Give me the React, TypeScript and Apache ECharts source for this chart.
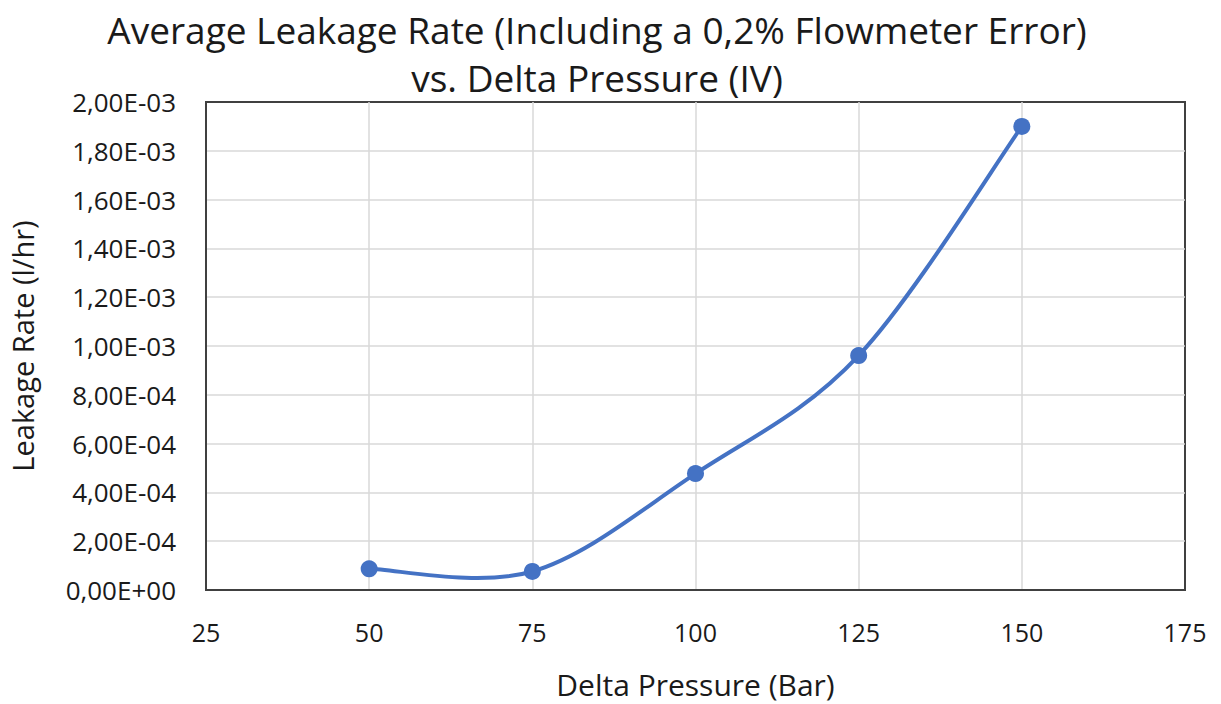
import React, { useEffect, useRef } from "react";
import * as echarts from "echarts";

const titleLines = ["Average Leakage Rate (Including a 0,2% Flowmeter Error)", "vs. Delta Pressure (IV)"];
const xAxisName = "Delta Pressure (Bar)";
const yAxisName = "Leakage Rate (l/hr)";
const pressures = [50, 75, 100, 125, 150];
const leakageRates = [8.7e-5, 7.6e-5, 4.77e-4, 9.61e-4, 1.9e-3];

function fmtSci(v: number): string {
  if (v === 0) return "0,00E+00";
  const [m, e] = v.toExponential(2).split("e");
  const exp = parseInt(e, 10);
  const sign = exp < 0 ? "-" : "+";
  const abs = Math.abs(exp).toString().padStart(2, "0");
  return m.replace(".", ",") + "E" + sign + abs;
}

export default function App() {
  const ref = useRef<HTMLDivElement>(null);
  useEffect(() => {
    if (!ref.current) return;
    const chart = echarts.init(ref.current, null, { renderer: "svg" });
    const font = "'Open Sans', 'Noto Sans', sans-serif";
    const data = pressures.map((p, i) => [p, leakageRates[i]]);
    const blue = "#4472c4";
    chart.setOption({
      animation: false,
      backgroundColor: "#ffffff",
      textStyle: { fontFamily: font },
      title: {
        text: titleLines.join("\n"),
        left: 597,
        textAlign: "center",
        top: 5,
        padding: 0,
        textStyle: { fontFamily: font, fontSize: 37, fontWeight: "normal", color: "#1a1a1a", lineHeight: 48 },
      },
      grid: { left: 206, right: 36, top: 102, bottom: 112, show: true, borderColor: "#404040", borderWidth: 2 },
      xAxis: {
        type: "value",
        min: 25,
        max: 175,
        interval: 25,
        name: xAxisName,
        nameLocation: "middle",
        nameGap: 79,
        nameTextStyle: { fontFamily: font, fontSize: 30, color: "#1a1a1a" },
        axisLine: { show: true, onZero: false, lineStyle: { color: "#404040", width: 2 } },
        axisTick: { show: false },
        axisLabel: { fontFamily: font, fontSize: 25, color: "#1a1a1a", margin: 29 },
        splitLine: { show: true, showMinLine: false, showMaxLine: false, lineStyle: { color: "#d9d9d9", width: 1.5 } },
      },
      yAxis: {
        type: "value",
        min: 0,
        max: 0.002,
        interval: 0.0002,
        name: yAxisName,
        nameLocation: "middle",
        nameGap: 169,
        nameTextStyle: { fontFamily: font, fontSize: 29, color: "#1a1a1a" },
        axisLine: { show: true, lineStyle: { color: "#404040", width: 2 } },
        axisTick: { show: false },
        axisLabel: { fontFamily: font, fontSize: 26, color: "#1a1a1a", margin: 30, formatter: (v: number) => fmtSci(v) },
        splitLine: { show: true, showMinLine: false, showMaxLine: false, lineStyle: { color: "#d9d9d9", width: 1.5 } },
      },
      series: [
        {
          type: "custom",
          data,
          encode: { x: 0, y: 1 },
          z: 2,
          renderItem: (params: any, api: any) => {
            if (params.dataIndex !== 0) return { type: "group", children: [] };
            const pts = data.map((d) => api.coord(d));
            const n = pts.length;
            const P = (i: number) => pts[Math.max(0, Math.min(n - 1, i))];
            let d = `M${pts[0][0]},${pts[0][1]}`;
            for (let i = 0; i < n - 1; i++) {
              const p0 = P(i - 1), p1 = P(i), p2 = P(i + 1), p3 = P(i + 2);
              const c1x = p1[0] + (p2[0] - p0[0]) / 6;
              const c1y = p1[1] + (p2[1] - p0[1]) / 6;
              const c2x = p2[0] - (p3[0] - p1[0]) / 6;
              const c2y = p2[1] - (p3[1] - p1[1]) / 6;
              d += ` C${c1x},${c1y} ${c2x},${c2y} ${p2[0]},${p2[1]}`;
            }
            return {
              type: "path",
              shape: { pathData: d },
              style: { fill: "none", stroke: blue, lineWidth: 4, lineCap: "round", lineJoin: "round" },
            };
          },
        },
        {
          type: "scatter",
          data,
          z: 3,
          symbol: "circle",
          symbolSize: 17,
          itemStyle: { color: blue, opacity: 1 },
        },
      ],
    });
    return () => chart.dispose();
  }, []);
  return <div ref={ref} style={{ width: 1221, height: 704, position: "absolute", left: 0, top: 0 }} />;
}
